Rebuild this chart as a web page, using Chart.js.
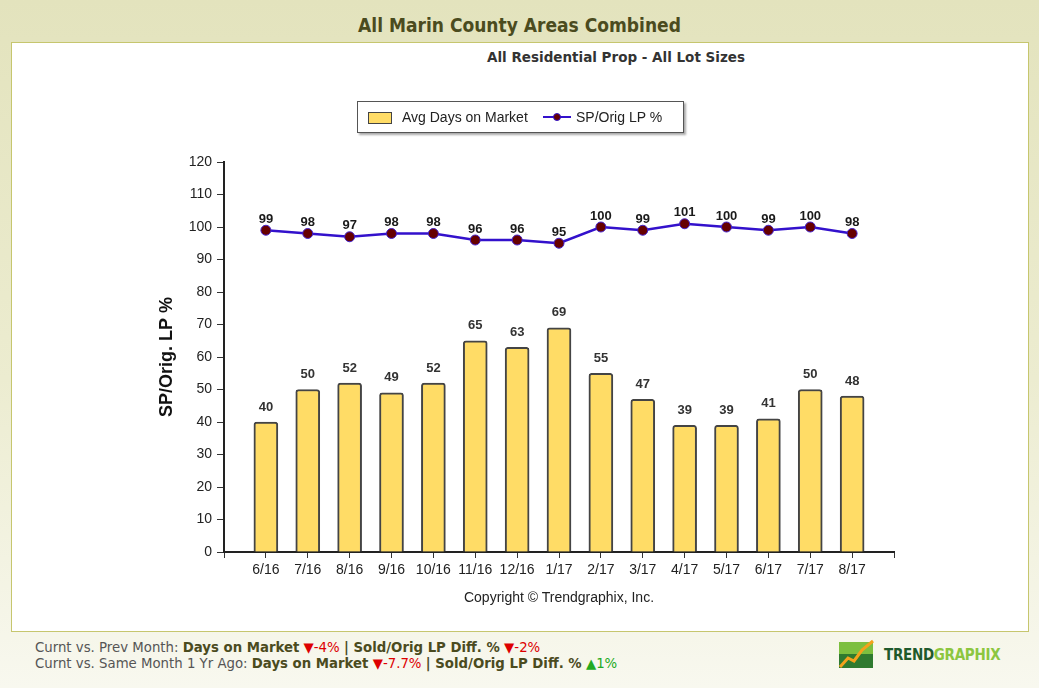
<!DOCTYPE html>
<html>
<head>
<meta charset="utf-8">
<script src="https://cdn.jsdelivr.net/npm/chart.js@4.4.1/dist/chart.umd.min.js"></script>
<style>
  html, body { margin: 0; padding: 0; }
  body {
    width: 1039px; height: 688px; position: relative; overflow: hidden;
    background: linear-gradient(#e3e3bd 0%, #ececd0 55%, #f8f8ef 100%);
    font-family: "Liberation Sans", Arial, sans-serif;
  }
  #title {
    position: absolute; left: 0; width: 1039px; top: 14px; text-align: center;
    font: bold 19px "DejaVu Sans Condensed", sans-serif; color: #4b4b1e;
  }
  #panel {
    position: absolute; left: 11px; top: 42px; width: 1016px; height: 588px;
    background: #fff; border: 1px solid #c6c66e;
  }
  #subtitle {
    position: absolute; left: 416px; width: 400px; top: 49px; text-align: center;
    font: bold 13.5px "DejaVu Sans", sans-serif; color: #333;
  }
  #chart { position: absolute; left: 12px; top: 43px; }
  #legend {
    position: absolute; left: 357px; top: 101px; width: 325px; height: 30px;
    border: 1px solid #555; background: #fff; box-shadow: 2px 2px 2px #aaa;
    font-size: 14px; color: #222;
  }
  #legend .box {
    position: absolute; left: 10px; top: 10px; width: 22px; height: 10px;
    background: #ffdc66; border: 1px solid #444;
  }
  #legend .t1 { position: absolute; left: 44px; top: 7px; }
  #legend .ln {
    position: absolute; left: 185px; top: 14px; width: 28px; height: 2px; background: #3311cc;
  }
  #legend .dot {
    position: absolute; left: 195px; top: 11px; width: 6px; height: 6px; border-radius: 50%;
    background: #660000; border: 1px solid #3311cc;
  }
  #legend .t2 { position: absolute; left: 218px; top: 7px; }
  #copy {
    position: absolute; left: 409px; width: 300px; top: 589px; text-align: center;
    font-size: 14px; color: #222;
  }
  .foot {
    position: absolute; left: 35px; font: 13.3px "DejaVu Sans", sans-serif; color: #555;
  }
  .foot b { color: #4b4b1e; }
  .dn { color: #dd0000; }
  .up { color: #22aa22; }
  #logo { position: absolute; left: 838px; top: 638px; }
  #logotext {
    position: absolute; left: 884px; top: 646px; font: bold 15px "DejaVu Sans Condensed", sans-serif;
    letter-spacing: -0.3px;
  }
</style>
</head>
<body>
<div id="title">All Marin County Areas Combined</div>
<div id="panel"></div>
<div id="subtitle">All Residential Prop - All Lot Sizes</div>
<canvas id="chart" width="1016" height="588"></canvas>
<div id="legend">
  <div class="box"></div><span class="t1">Avg Days on Market</span>
  <div class="ln"></div><div class="dot"></div><span class="t2">SP/Orig LP %</span>
</div>
<div id="copy">Copyright © Trendgraphix, Inc.</div>
<div class="foot" style="top:640px">Curnt vs. Prev Month: <b>Days on Market</b> <span class="dn">▼-4%</span> <b>| Sold/Orig LP Diff. %</b> <span class="dn">▼-2%</span></div>
<div class="foot" style="top:656px">Curnt vs. Same Month 1 Yr Ago: <b>Days on Market</b> <span class="dn">▼-7.7%</span> <b>| Sold/Orig LP Diff. %</b> <span class="up">▲1%</span></div>
<svg id="logo" width="38" height="32" viewBox="0 0 38 32">
  <rect x="1" y="4" width="34" height="26" fill="#2f7a2f"/>
  <rect x="1" y="4" width="34" height="12" fill="#7cbf3f"/>
  <polyline points="2,29 10,20 16,23 24,12 35,3" fill="none" stroke="#f3a21b" stroke-width="3"/>
</svg>
<div id="logotext"><span style="color:#1f5a2c">TREND</span><span style="color:#8cc63f">GRAPHIX</span></div>
<script>
const months = ['6/16', '7/16', '8/16', '9/16', '10/16', '11/16', '12/16', '1/17',
                '2/17', '3/17', '4/17', '5/17', '6/17', '7/17', '8/17'];
const daysOnMarket = [40, 50, 52, 49, 52, 65, 63, 69, 55, 47, 39, 39, 41, 50, 48];
const spOrigLp = [99, 98, 97, 98, 98, 96, 96, 95, 100, 99, 101, 100, 99, 100, 98];

// labels above bars and points
const valueLabels = {
  id: 'valueLabels',
  afterDatasetsDraw(chart) {
    const ctx = chart.ctx;
    ctx.save();
    ctx.textAlign = 'center';
    ctx.textBaseline = 'middle';
    ctx.font = 'bold 13px "Liberation Sans", Arial, sans-serif';
    chart.data.datasets.forEach((ds, di) => {
      const meta = chart.getDatasetMeta(di);
      const up = ds.type === 'line' ? 11 : 15;
      ctx.fillStyle = ds.type === 'line' ? '#1a1a1a' : '#333';
      meta.data.forEach((el, i) => {
        ctx.fillText(String(ds.data[i].y), el.x, el.y - up);
      });
    });
    ctx.restore();
  }
};

const ctx = document.getElementById('chart').getContext('2d');
new Chart(ctx, {
  type: 'bar',
  data: {
    datasets: [
      {
        type: 'line',
        label: 'SP/Orig LP %',
        data: spOrigLp.map((v, i) => ({ x: i, y: v })),
        borderColor: '#3311cc',
        borderWidth: 2.5,
        pointRadius: 5,
        pointBackgroundColor: '#660000',
        pointBorderColor: '#4422cc',
        pointBorderWidth: 1,
        order: 0,
      },
      {
        type: 'bar',
        label: 'Avg Days on Market',
        data: daysOnMarket.map((v, i) => ({ x: i, y: v })),
        backgroundColor: '#ffdc66',
        borderColor: '#444',
        borderWidth: 2,
        borderRadius: { topLeft: 3, topRight: 3 },
        borderSkipped: 'bottom',
        barThickness: 24,
        order: 1,
      },
    ],
  },
  options: {
    responsive: false,
    animation: false,
    layout: { padding: { left: 142, right: 134, top: 119, bottom: 49 } },
    plugins: { legend: { display: false }, tooltip: { enabled: false } },
    scales: {
      x: {
        type: 'linear',
        min: -1,
        max: 15,
        offset: false,
        afterFit: (s) => { s.height = 30; },
        ticks: {
          stepSize: 1,
          autoSkip: false,
          maxRotation: 0,
          padding: 4,
          color: '#222',
          font: { size: 14, family: '"Liberation Sans", Arial, sans-serif' },
          callback: (v) => months[v] ?? '',
        },
        grid: { offset: false, drawOnChartArea: false, drawTicks: true, tickLength: 6, color: '#333' },
        border: { color: '#222', width: 2 },
      },
      y: {
        min: 0,
        max: 120,
        afterFit: (s) => { s.width = 70; },
        ticks: {
          stepSize: 10,
          padding: 5,
          color: '#222',
          font: { size: 14, family: '"Liberation Sans", Arial, sans-serif' },
        },
        grid: { drawOnChartArea: false, drawTicks: true, tickLength: 7, color: '#333' },
        border: { color: '#222', width: 2 },
        title: {
          display: true,
          text: 'SP/Orig. LP %',
          color: '#111',
          padding: { top: 2, bottom: 0 },
          font: { size: 18, weight: 'bold', family: '"Liberation Sans", Arial, sans-serif' },
        },
      },
    },
  },
  plugins: [valueLabels],
});
</script>
</body>
</html>
